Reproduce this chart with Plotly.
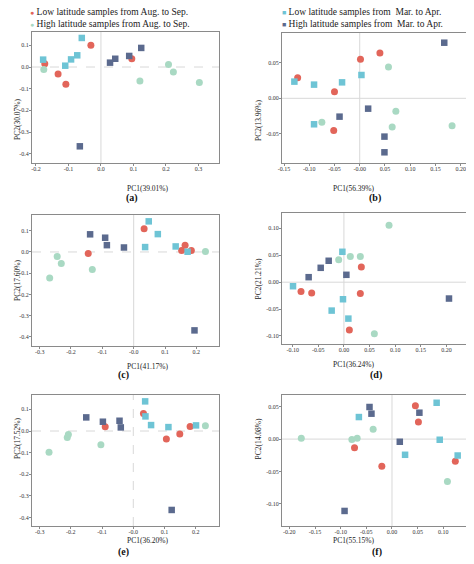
import plotly.graph_objects as go

# The page body keeps an 8px margin, so the figure sits 8px in from the window's
# top-left corner; positions below are in window pixels and shifted by OFF.
OFF = 8
W, H = 474 - OFF, 564 - OFF
FONT = "Liberation Serif"


def px(x):
    return (x - OFF) / W


def py(y):
    return 1 - (y - OFF) / H


series_names = ["Low latitude samples from Aug. to Sep.",
                "High latitude samples from Aug. to Sep.",
                "Low latitude samples from  Mar. to Apr.",
                "High latitude samples from  Mar. to Apr."]
series_colors = ["#E2655A", "#A9D9C3", "#6EC4D5", "#5B6A8E"]
series_symbols = ["circle", "circle", "square", "square"]
series_glyphs = ["●", "●", "■", "■"]

panel_labels = ["(a)", "(b)", "(c)", "(d)", "(e)", "(f)"]
x_titles = ["PC1(39.01%)", "PC1(56.39%)", "PC1(41.17%)", "PC1(36.24%)", "PC1(36.20%)", "PC1(55.15%)"]
y_titles = ["PC2(30.07%)", "PC2(13.96%)", "PC2(17.60%)", "PC2(21.21%)", "PC2(17.52%)", "PC2(14.08%)"]

# panel (a)
a_x = [[-0.173, -0.132, -0.108, -0.031, 0.095],
       [-0.176, 0.120, 0.208, 0.223, 0.303],
       [-0.178, -0.110, -0.092, -0.073, -0.059],
       [-0.065, 0.028, 0.044, 0.087, 0.124]]
a_y = [[0.015, -0.032, -0.080, 0.100, 0.038],
       [-0.011, -0.065, 0.012, -0.023, -0.071],
       [0.034, 0.006, 0.035, 0.054, 0.134],
       [-0.366, 0.020, 0.038, 0.051, 0.088]]
# panel (b)
b_x = [[-0.123, -0.050, -0.0515, 0.0015, 0.040],
       [-0.075, 0.057, 0.0716, 0.0643, 0.183],
       [-0.1295, -0.0905, -0.0905, -0.035, 0.0034],
       [-0.040, 0.0167, 0.049, 0.049, 0.1675]]
b_y = [[0.029, 0.0093, -0.0453, 0.0547, 0.0636],
       [-0.0336, 0.0439, -0.0182, -0.0402, -0.0383],
       [0.0234, 0.0192, -0.0364, 0.0224, 0.0327],
       [-0.0257, -0.0145, -0.0537, -0.0757, 0.078]]
# panel (c)
c_x = [[-0.145, 0.0333, 0.153, 0.164, 0.184],
       [-0.268, -0.244, -0.231, -0.132, 0.229],
       [0.0365, 0.048, 0.077, 0.134, 0.172],
       [-0.139, -0.091, -0.0855, -0.031, 0.194]]
c_y = [[-0.007, 0.109, 0.007, 0.031, 0.007],
       [-0.122, -0.021, -0.054, -0.082, 0.0025],
       [0.023, 0.144, 0.084, 0.026, 0.001],
       [0.083, 0.067, 0.032, 0.021, -0.369]]
# panel (d)
d_x = [[-0.0837, -0.0629, 0.034, 0.032, 0.0106],
       [-0.0102, 0.0125, 0.032, 0.088, 0.0594],
       [-0.0993, -0.003, -0.0018, -0.0239, 0.0087],
       [-0.0688, -0.0453, -0.0297, 0.0048, 0.205]]
d_y = [[-0.0174, -0.0199, 0.028, -0.021, -0.0888],
       [0.0416, 0.0478, 0.0478, 0.106, -0.0957],
       [-0.0075, 0.0565, -0.0317, -0.0528, -0.0677],
       [0.0093, 0.0267, 0.0398, 0.0137, -0.0304]]
# panel (e)
e_x = [[-0.090, 0.0326, 0.106, 0.149, 0.182],
       [-0.270, -0.2115, -0.208, -0.1038, 0.231],
       [0.038, 0.039, 0.057, 0.1126, 0.201],
       [-0.1507, -0.0974, -0.0441, -0.040, 0.123]]
e_y = [[0.0198, 0.0815, -0.037, -0.014, 0.021],
       [-0.0975, -0.0296, -0.0157, -0.0636, 0.0244],
       [0.137, 0.0676, 0.0275, 0.0182, 0.026],
       [0.063, 0.043, 0.0475, 0.0167, -0.3645]]
# panel (f)
f_x = [[-0.073, -0.0198, 0.0456, 0.0515, 0.1234],
       [-0.1767, -0.0782, -0.0678, -0.0367, 0.108],
       [-0.0645, 0.0255, 0.087, 0.093, 0.128],
       [-0.0924, -0.0438, -0.040, 0.0152, 0.0534]]
f_y = [[-0.0134, -0.0418, 0.0515, 0.0263, -0.034],
       [0.0015, -0.0005, 0.0015, 0.015, -0.0655],
       [0.034, -0.0242, 0.056, -0.001, -0.0253],
       [-0.1108, 0.0495, 0.0392, -0.0041, 0.0407]]

panels_x = [a_x, b_x, c_x, d_x, e_x, f_x]
panels_y = [a_y, b_y, c_y, d_y, e_y, f_y]

x_ranges = [[-0.2123, 0.3635], [-0.154, 0.2185], [-0.3244, 0.2722],
            [-0.1208, 0.246], [-0.3245, 0.2746], [-0.2143, 0.152]]
y_ranges = [[-0.443, 0.1615], [-0.0907, 0.0916], [-0.4425, 0.1739],
            [-0.1149, 0.1286], [-0.4386, 0.1664], [-0.134, 0.068]]
x_tickvals = [[-0.2, -0.1, 0.0, 0.1, 0.2, 0.3],
              [-0.15, -0.10, -0.05, 0.0, 0.05, 0.10, 0.15, 0.20],
              [-0.3, -0.2, -0.1, 0.0, 0.1, 0.2],
              [-0.10, -0.05, 0.0, 0.05, 0.10, 0.15, 0.20],
              [-0.3, -0.2, -0.1, 0.0, 0.1, 0.2],
              [-0.20, -0.15, -0.10, -0.05, 0.0, 0.05, 0.10, 0.15]]
x_ticktext = [["-0.2", "-0.1", "0.0", "0.1", "0.2", "0.3"],
              ["-0.15", "-0.10", "-0.05", "-0.00", "0.05", "0.10", "0.15", "0.20"],
              ["-0.3", "-0.2", "-0.1", "-0.0", "0.1", "0.2"],
              ["-0.10", "-0.05", "0.00", "0.05", "0.10", "0.15", "0.20"],
              ["-0.3", "-0.2", "-0.1", "-0.0", "0.1", "0.2"],
              ["-0.20", "-0.15", "-0.10", "-0.05", "0.00", "0.05", "0.10", "0.15"]]
y_tickvals = [[-0.4, -0.3, -0.2, -0.1, 0.0, 0.1],
              [-0.05, 0.0, 0.05],
              [-0.4, -0.3, -0.2, -0.1, 0.0, 0.1],
              [-0.10, -0.05, 0.0, 0.05, 0.10],
              [-0.4, -0.3, -0.2, -0.1, 0.0, 0.1],
              [-0.10, -0.05, 0.0, 0.05]]
y_ticktext = [["-0.4", "-0.3", "-0.2", "-0.1", "0.0", "0.1"],
              ["-0.05", "0.00", "0.05"],
              ["-0.4", "-0.3", "-0.2", "-0.1", "0.0", "0.1"],
              ["-0.10", "-0.05", "0.00", "0.05", "0.10"],
              ["-0.4", "-0.3", "-0.2", "-0.1", "0.0", "0.1"],
              ["-0.10", "-0.05", "0.00", "0.05"]]
zero_dash = [("solid", "dash"), ("solid", "solid"), ("solid", "dash"),
             ("solid", "solid"), ("dash", "dash"), ("solid", "solid")]

# pixel boxes in window pixels (left, top, right, bottom)
boxes = [(32, 32, 219, 163), (282, 33, 470, 163),
         (32, 215, 219, 346), (282, 213, 470, 344),
         (32, 395, 219, 526), (282, 395, 470, 526)]
label_pos = [(125, 197.5), (382, 197.5), (117, 381.5), (383, 381.5), (117, 558.5), (383, 558.5)]
legend_pos = [(29, 12.5), (29, 24), (281, 12.5), (281, 24)]

fig = go.Figure()
layout = {}
annotations = []
shapes = []
for p in range(6):
    xa = "x" if p == 0 else f"x{p+1}"
    ya = "y" if p == 0 else f"y{p+1}"
    L, T, R, B = boxes[p]
    for s in range(4):
        fig.add_trace(go.Scatter(
            x=panels_x[p][s], y=panels_y[p][s], mode="markers",
            name=series_names[s], showlegend=False,
            marker=dict(symbol=series_symbols[s], color=series_colors[s],
                        size=7 if s < 2 else 6.5, line=dict(width=0)),
            xaxis=xa, yaxis=ya))
    axis_common = dict(showgrid=False, zeroline=False, showline=True,
                       linecolor="#8a8a8a", linewidth=1, mirror=True,
                       ticks="outside", ticklen=2, tickcolor="#8a8a8a",
                       automargin=False,
                       tickfont=dict(family=FONT, size=6, color="#333"))
    layout["xaxis" if p == 0 else f"xaxis{p+1}"] = dict(
        domain=[px(L), min(px(R), 1)], range=x_ranges[p], anchor=ya,
        tickvals=x_tickvals[p], ticktext=x_ticktext[p], ticklabelstandoff=-2,
        **axis_common)
    layout["yaxis" if p == 0 else f"yaxis{p+1}"] = dict(
        domain=[py(B), py(T)], range=y_ranges[p], anchor=xa,
        tickvals=y_tickvals[p], ticktext=y_ticktext[p], ticklabelstandoff=-1,
        **axis_common)
    vdash, hdash = zero_dash[p]
    shapes.append(dict(type="line", xref=xa, yref=f"{ya} domain", x0=0, x1=0, y0=0, y1=1,
                       line=dict(color="#d8d8d8", width=1, dash=vdash), layer="below"))
    shapes.append(dict(type="line", xref=f"{xa} domain", yref=ya, x0=0, x1=1, y0=0, y1=0,
                       line=dict(color="#d8d8d8", width=1, dash=hdash), layer="below"))
    cx = (L + R) / 2
    annotations.append(dict(text=x_titles[p], xref="paper", yref="paper",
                            x=px(cx), y=py(B + 20), showarrow=False, borderpad=0,
                            font=dict(family=FONT, size=7.5, color="#222")))
    ytx = 12 if p % 2 == 0 else 258
    annotations.append(dict(text=y_titles[p], xref="paper", yref="paper",
                            x=px(ytx), y=py((T + B) / 2), showarrow=False, textangle=-90,
                            borderpad=0, font=dict(family=FONT, size=7.5, color="#222")))
    lx, ly = label_pos[p]
    annotations.append(dict(text=f"<b>{panel_labels[p]}</b>", xref="paper", yref="paper",
                            x=px(lx), y=py(ly), showarrow=False, borderpad=0,
                            font=dict(family=FONT, size=10, color="#111")))

# legend as text with coloured glyphs
for s in range(4):
    lx, ly = legend_pos[s]
    annotations.append(dict(
        text=f"<span style='font-size:7px;color:{series_colors[s]}'>{series_glyphs[s]}</span> {series_names[s]}",
        xref="paper", yref="paper", x=px(lx), y=py(ly),
        xanchor="left", yanchor="middle", showarrow=False, borderpad=0,
        font=dict(family=FONT, size=9.5, color="#222")))

fig.update_layout(width=W, height=H, margin=dict(l=0, r=0, t=0, b=0, autoexpand=False),
                  plot_bgcolor="white", paper_bgcolor="white", showlegend=False,
                  annotations=annotations, shapes=shapes, **layout)
fig.write_html("out.html")
